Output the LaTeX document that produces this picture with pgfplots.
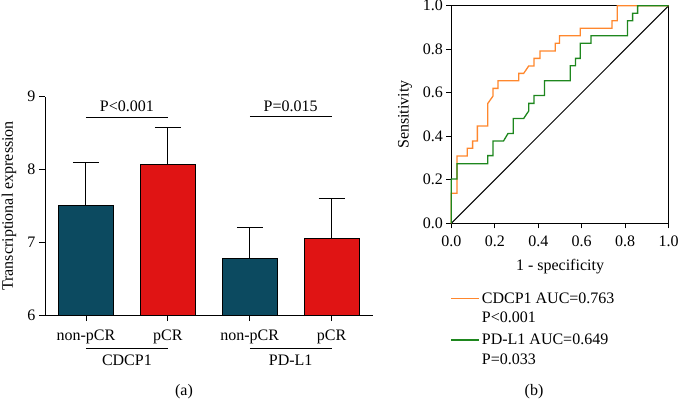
\documentclass[border=0pt]{standalone}
\usepackage{fontspec}
\setmainfont{Liberation Serif}
\usepackage{pgfplots}
\pgfplotsset{compat=1.18}
\definecolor{barteal}{RGB}{12,74,96}
\definecolor{barred}{RGB}{224,20,20}
\definecolor{rocorange}{RGB}{255,135,45}
\definecolor{rocgreen}{RGB}{30,135,30}
\begin{document}
\begin{tikzpicture}[font=\fontsize{16bp}{19bp}\selectfont]
\path[use as bounding box] (0bp,0bp) rectangle (678bp,401bp);
% ---------------- (a) bar chart ----------------
\begin{axis}[
  at={(45bp,86bp)}, anchor=south west,
  scale only axis, width=327.6bp, height=218.3bp,
  xmin=-0.5, xmax=3.5, ymin=6, ymax=9,
  axis x line*=bottom, axis y line*=left,
  axis line style={line width=0.9bp},
  xtick={0,1,2,3}, xticklabels={non-pCR,pCR,non-pCR,pCR},
  ytick={6,7,8,9},
  tick align=outside, major tick length=6bp,
  tick style={black, line width=0.9bp},
  /pgf/number format/assume math mode=true,
  tick label style={font=\fontsize{16bp}{19bp}\selectfont},
  xticklabel style={yshift=-5bp},
  ylabel={Transcriptional expression},
  ylabel style={at={(axis description cs:-0.110,0.5)}, anchor=center},
  clip mode=individual,
  ybar, bar width=55bp, bar shift=0bp,
]
\addplot[fill=barteal, draw=black, line width=0.9bp,
  error bars/.cd, y dir=plus, y explicit,
  error bar style={black, line width=1bp},
  error mark options={rotate=90, black, mark size=13bp, line width=1bp}]
  coordinates {(0,7.50) +- (0,0.60) (2,6.78) +- (0,0.42)};
\addplot[fill=barred, draw=black, line width=0.9bp,
  error bars/.cd, y dir=plus, y explicit,
  error bar style={black, line width=1bp},
  error mark options={rotate=90, black, mark size=13bp, line width=1bp}]
  coordinates {(1,8.065) +- (0,0.51) (3,7.055) +- (0,0.54)};
% significance
\draw[line width=0.9bp] (axis cs:0,8.714) -- (axis cs:1,8.714);
\node[anchor=base, inner sep=0pt] at (axis cs:0.5,8.79) {P<0.001};
\draw[line width=0.9bp] (axis cs:2,8.727) -- (axis cs:3,8.727);
\node[anchor=base, inner sep=0pt] at (axis cs:2.5,8.79) {P=0.015};
% group labels
\draw[line width=0.9bp] (axis cs:0,5.542) -- (axis cs:1,5.542);
\draw[line width=0.9bp] (axis cs:2,5.542) -- (axis cs:3,5.542);
\node[anchor=center, inner sep=0pt] at (axis cs:0.5,5.375) {CDCP1};
\node[anchor=center, inner sep=0pt] at (axis cs:2.5,5.375) {PD-L1};
\end{axis}
% ---------------- (b) ROC ----------------
\begin{axis}[
  at={(451.3bp,177.7bp)}, anchor=south west,
  scale only axis, width=217.4bp, height=217.6bp,
  xmin=0, xmax=1, ymin=0, ymax=1,
  xtick={0,0.2,0.4,0.6,0.8,1}, ytick={0,0.2,0.4,0.6,0.8,1},
  xtick pos=bottom, ytick pos=left,
  axis line style={line width=0.9bp},
  tick align=outside, major tick length=5bp,
  tick style={black, line width=0.9bp},
  /pgf/number format/assume math mode=true,
  /pgf/number format/fixed,
  /pgf/number format/fixed zerofill,
  /pgf/number format/precision=1,
  tick label style={font=\fontsize{16bp}{19bp}\selectfont},
  xticklabel style={yshift=-4bp},
  xlabel={1 - specificity},
  xlabel style={at={(axis description cs:0.5,-0.2)}, anchor=center},
  ylabel={Sensitivity},
  ylabel style={at={(axis description cs:-0.213,0.5)}, anchor=center},
  clip=false,
]
\addplot[black, line width=1bp] coordinates {(0,0) (1,1)};
\addplot[rocorange, line width=1.3bp, line join=miter] coordinates {
(0,0) (0,0.138) (0.026,0.138) (0.026,0.309) (0.073,0.309) (0.073,0.345)
(0.098,0.345) (0.098,0.378) (0.12,0.378) (0.12,0.447) (0.168,0.447)
(0.168,0.551) (0.192,0.585) (0.192,0.62) (0.215,0.62) (0.215,0.655)
(0.31,0.655) (0.31,0.689) (0.333,0.689) (0.356,0.723) (0.38,0.723)
(0.38,0.758) (0.408,0.758) (0.408,0.792) (0.478,0.792) (0.478,0.827)
(0.498,0.827) (0.498,0.862) (0.593,0.862) (0.593,0.896) (0.739,0.896)
(0.739,0.931) (0.763,0.931) (0.763,1) (1,1)};
\addplot[rocgreen, line width=1.3bp, line join=miter] coordinates {
(0,0) (0,0.204) (0.026,0.204) (0.026,0.274) (0.168,0.274) (0.168,0.311)
(0.192,0.311) (0.192,0.378) (0.24,0.378) (0.261,0.413) (0.285,0.413)
(0.285,0.482) (0.333,0.482) (0.356,0.516) (0.356,0.551) (0.38,0.551)
(0.38,0.587) (0.429,0.587) (0.429,0.655) (0.547,0.655) (0.547,0.724)
(0.571,0.724) (0.571,0.758) (0.593,0.758) (0.593,0.827) (0.643,0.827)
(0.643,0.862) (0.81,0.862) (0.81,0.931) (0.834,0.931) (0.834,0.965)
(0.857,0.965) (0.857,1) (1,1)};
\end{axis}
% legend of (b)
\draw[rocorange, line width=1.3bp] (451bp,102.3bp) -- (479bp,102.3bp);
\node[anchor=base west, inner sep=0pt] at (481.7bp,97bp) {CDCP1 AUC=0.763};
\node[anchor=base west, inner sep=0pt] at (481.7bp,78.7bp) {P<0.001};
\draw[rocgreen, line width=1.3bp] (451bp,61bp) -- (479bp,61bp);
\node[anchor=base west, inner sep=0pt] at (481.7bp,56bp) {PD-L1 AUC=0.649};
\node[anchor=base west, inner sep=0pt] at (481.7bp,36.7bp) {P=0.033};
% panel labels
\node[anchor=center, inner sep=0pt] at (184bp,9bp) {(a)};
\node[anchor=center, inner sep=0pt] at (534bp,9bp) {(b)};
\end{tikzpicture}
\end{document}
